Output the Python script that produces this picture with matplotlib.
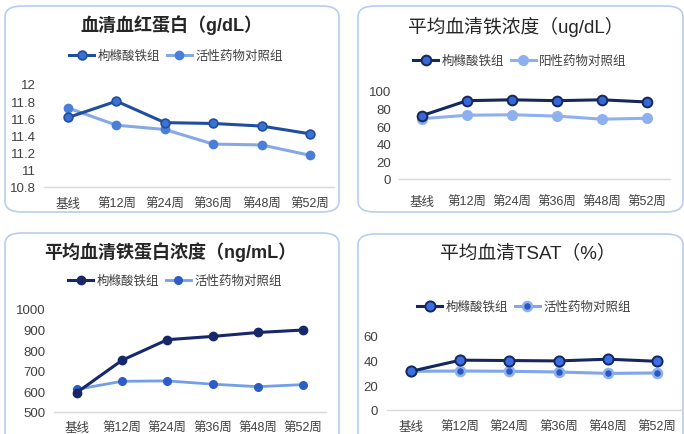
import matplotlib.pyplot as plt
from matplotlib.patches import FancyBboxPatch
from matplotlib.lines import Line2D

plt.rcParams['font.family'] = ['Liberation Sans', 'Noto Sans CJK SC', 'DejaVu Sans']

W, H = 684, 435

weeks = ['基线', '第12周', '第24周', '第36周', '第48周', '第52周']

hb_fe = [11.61, 11.80, 11.55, 11.54, 11.51, 11.42]
hb_ctrl = [11.72, 11.52, 11.47, 11.30, 11.29, 11.17]

iron_fe = [72, 89, 90, 89, 90, 87.5]
iron_ctrl = [68.5, 72.5, 73, 71.5, 68, 69]

ferritin_fe = [594, 751, 851, 867, 886, 898]
ferritin_ctrl = [610, 649, 651, 635, 623, 633]

tsat_fe = [31.4, 40.4, 40.1, 39.8, 41.2, 39.5]
tsat_ctrl = [31.4, 31.6, 31.4, 30.8, 29.7, 30.0]

fe_name = '枸橼酸铁组'
ctrl_name = '活性药物对照组'
ctrl_name2 = '阳性药物对照组'

fig = plt.figure(figsize=(W / 100, H / 100), dpi=100)


def px_rect(x0, y0, x1, y1):
    return [x0 / W, 1 - y1 / H, (x1 - x0) / W, (y1 - y0) / H]


def frame(x0, y0, x1, y1):
    box = FancyBboxPatch((x0 / W, 1 - y1 / H), (x1 - x0) / W, (y1 - y0) / H,
                         boxstyle='round,pad=0,rounding_size=0.025',
                         transform=fig.transFigure, fc='white',
                         ec='#B9CDEF', lw=1.2, zorder=-5)
    fig.patches.append(box)


def panel(rect, s1, s2, ylim, yticks, fe_style, ctrl_style, xpad=7):
    ax = fig.add_axes(px_rect(*rect))
    x = range(len(weeks))
    ax.plot(x, s2, **ctrl_style, zorder=3, clip_on=False)
    ax.plot(x, s1, **fe_style, zorder=4, clip_on=False)
    ax.set_xlim(-0.5, 5.5)
    ax.set_ylim(*ylim)
    ax.set_yticks(yticks)
    ax.set_yticklabels([f'{t:g}' for t in yticks])
    ax.set_xticks(list(x))
    ax.set_xticklabels(weeks)
    for s in ['top', 'right', 'left']:
        ax.spines[s].set_visible(False)
    ax.spines['bottom'].set_color('#D9D9D9')
    ax.spines['bottom'].set_linewidth(1)
    ax.tick_params(length=0, colors='#404040')
    ax.tick_params(axis='x', pad=xpad, labelsize=9)
    ax.tick_params(axis='y', pad=6, labelsize=9.5)
    ax.patch.set_alpha(0)
    return ax


def legend(cx, cy, fe_style, ctrl_style, names):
    handles = [Line2D([], [], **fe_style), Line2D([], [], **ctrl_style)]
    fig.legend(handles, names, loc='center', bbox_to_anchor=(cx / W, 1 - cy / H),
               ncol=2, frameon=False, fontsize=9, handlelength=2.0,
               handletextpad=0.3, columnspacing=0.5, labelcolor='#404040')


# 血清血红蛋白
frame(5, 7, 339, 213)
fe1 = dict(color='#1F4E9E', lw=2.2, marker='o', ms=6.3, mfc='#3B72D2', mec='#1F4E9E', mew=1.2)
ct1 = dict(color='#86A8E6', lw=2.2, marker='o', ms=6, mfc='#4A7FD9', mec='#4A7FD9')
fig.text(171 / W, 1 - 25 / H, '血清血红蛋白（g/dL）', ha='center', va='center',
         fontsize=13, fontweight='bold', color='#262626')
legend(176, 57, fe1, ct1, [fe_name, ctrl_name])
panel((44, 85, 334, 188), hb_fe, hb_ctrl, (10.8, 12.0),
      [10.8, 11, 11.2, 11.4, 11.6, 11.8, 12], fe1, ct1, xpad=8)

# 平均血清铁浓度
frame(358, 7, 683, 213)
fe2 = dict(color='#14285E', lw=2.2, marker='o', ms=7, mfc='#3766D6', mec='#14285E', mew=1.4)
ct2 = dict(color='#8FB0EE', lw=2.2, marker='o', ms=7, mfc='#8FB0EE', mec='#8FB0EE')
fig.text(516 / W, 1 - 27 / H, '平均血清铁浓度（ug/dL）', ha='center', va='center',
         fontsize=13.5, color='#262626')
legend(520, 62, fe2, ct2, [fe_name, ctrl_name2])
panel((399.5, 92, 669.5, 180), iron_fe, iron_ctrl, (0, 100),
      [0, 20, 40, 60, 80, 100], fe2, ct2, xpad=12)

# 平均血清铁蛋白浓度
frame(5, 234, 339, 445)
fe3 = dict(color='#16286A', lw=2.2, marker='o', ms=6, mfc='#16286A', mec='#16286A')
ct3 = dict(color='#739FE6', lw=2.0, marker='o', ms=5.5, mfc='#2C5CC6', mec='#2C5CC6')
fig.text(170 / W, 1 - 252 / H, '平均血清铁蛋白浓度（ng/mL）', ha='center', va='center',
         fontsize=13, fontweight='bold', color='#262626')
legend(175, 282, fe3, ct3, [fe_name, ctrl_name])
panel((54, 310, 326, 413), ferritin_fe, ferritin_ctrl, (500, 1000),
      [500, 600, 700, 800, 900, 1000], fe3, ct3, xpad=7)

# 平均血清TSAT
frame(358, 235, 683, 445)
fe4 = dict(color='#14285E', lw=2.2, marker='o', ms=7.3, mfc='#3B6EE6', mec='#14285E', mew=1.4)
ct4 = dict(color='#7FA6E8', lw=2.2, marker='o', ms=6.5, mfc='#2A58C0', mec='#8FB0EE', mew=1.8)
fig.text(528 / W, 1 - 253 / H, '平均血清TSAT（%）', ha='center', va='center',
         fontsize=13.5, color='#262626')
legend(524, 308, fe4, ct4, [fe_name, ctrl_name])
panel((386.5, 337, 681.5, 411), tsat_fe, tsat_ctrl, (0, 60),
      [0, 20, 40, 60], fe4, ct4, xpad=8)

plt.savefig('out.png', dpi=100, facecolor='white')
